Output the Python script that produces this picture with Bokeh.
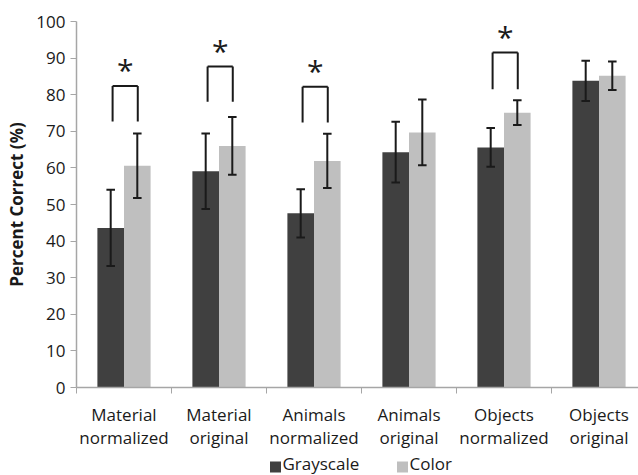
import numpy as np
from bokeh.plotting import figure
from bokeh.layouts import column
from bokeh.models import Range1d, FixedTicker
from bokeh.core.properties import value
from bokeh.embed import file_html
from bokeh.resources import INLINE

categories = ["Material\nnormalized", "Material\noriginal", "Animals\nnormalized",
              "Animals\noriginal", "Objects\nnormalized", "Objects\noriginal"]
gray_mean = [43.6, 59.1, 47.6, 64.3, 65.6, 83.8]
gray_err = [10.4, 10.3, 6.6, 8.3, 5.3, 5.5]
color_mean = [60.6, 66.0, 61.9, 69.7, 75.1, 85.2]
color_err = [8.8, 7.9, 7.4, 9.0, 3.4, 3.9]
sig_index = [0, 1, 2, 4]
bracket_top = [82.4, 87.7, 82.2, 91.5]
bracket_leg = [72.7, 78.1, 72.4, 81.5]
y_ticks = [0, 10, 20, 30, 40, 50, 60, 70, 80, 90, 100]
series = ["Grayscale", "Color"]

FONT = "Open Sans"
DARK = "#404040"
LIGHT = "#bfbfbf"
AXIS = "#a6a6a6"
INK = "#1a1a1a"

idx = np.arange(len(categories))
xg = idx + 0.36
xc = idx + 0.64
bw = 0.28

p = figure(width=638, height=452, output_backend="svg", toolbar_location=None,
           x_range=Range1d(0, 562 / 95), y_range=Range1d(0, 100),
           min_border_left=76, min_border_right=0, min_border_top=21,
           min_border_bottom=65)
p.outline_line_color = None
p.xgrid.grid_line_color = None
p.ygrid.grid_line_color = None

p.vbar(x=xg, top=gray_mean, width=bw, fill_color=DARK, line_color=None)
p.vbar(x=xc, top=color_mean, width=bw, fill_color=LIGHT, line_color=None)

# error bars
for xs, m, e in ((xg, gray_mean, gray_err), (xc, color_mean, color_err)):
    m = np.array(m); e = np.array(e)
    p.segment(x0=xs, y0=m - e, x1=xs, y1=m + e, line_color=INK, line_width=2)
    p.segment(x0=xs - 0.045, y0=m + e, x1=xs + 0.045, y1=m + e, line_color=INK, line_width=2)
    p.segment(x0=xs - 0.045, y0=m - e, x1=xs + 0.045, y1=m - e, line_color=INK, line_width=2)

# significance brackets
si = np.array(sig_index)
bl = si + 0.38
br = si + 0.645
bt = np.array(bracket_top)
bg = np.array(bracket_leg)
p.segment(x0=bl, y0=bg, x1=bl, y1=bt, line_color=INK, line_width=2)
p.segment(x0=br, y0=bg, x1=br, y1=bt, line_color=INK, line_width=2)
p.segment(x0=bl, y0=bt, x1=br, y1=bt, line_color=INK, line_width=2)
p.text(x=(bl + br) / 2, y=bt, text=["*"] * len(si), text_align="center",
       text_baseline="alphabetic", text_font=value(FONT), text_font_size="30px",
       text_color=INK, y_offset=-16)

# x axis
xa = p.xaxis[0]
xa.ticker = FixedTicker(ticks=list(idx + 0.5), minor_ticks=list(range(len(categories) + 1)))
xa.major_label_overrides = {float(i + 0.5): c for i, c in enumerate(categories)}
xa.major_tick_out = 0
xa.major_tick_in = 0
xa.minor_tick_out = 6
xa.minor_tick_in = 0
xa.minor_tick_line_color = AXIS
xa.axis_line_color = AXIS
xa.axis_line_width = 1.5
xa.major_label_text_font = FONT
xa.major_label_text_font_size = "17px"
xa.major_label_text_color = INK
xa.major_label_text_line_height = 1.0
xa.major_label_standoff = 9

# y axis
ya = p.yaxis[0]
ya.ticker = FixedTicker(ticks=y_ticks)
ya.minor_tick_line_color = None
ya.major_tick_out = 6
ya.major_tick_in = 0
ya.major_tick_line_color = AXIS
ya.axis_line_color = AXIS
ya.axis_line_width = 1.5
ya.major_label_text_font = FONT
ya.major_label_text_font_size = "17px"
ya.major_label_text_color = INK
ya.major_label_standoff = 5
ya.axis_label = "Percent Correct (%)"
ya.axis_label_text_font = FONT
ya.axis_label_text_font_size = "17px"
ya.axis_label_text_font_style = "bold"
ya.axis_label_text_color = INK
ya.axis_label_standoff = 5

# legend strip (its frame is aligned with the main frame: x in page pixels)
lf = figure(width=638, height=23, output_backend="svg", toolbar_location=None,
            x_range=Range1d(76, 638), y_range=Range1d(0, 23),
            x_axis_location=None, y_axis_location=None,
            min_border_left=0, min_border_right=0, min_border_top=0, min_border_bottom=0)
lf.outline_line_color = None
lf.xgrid.grid_line_color = None
lf.ygrid.grid_line_color = None
swatch_x = [275, 402]
lf.rect(x=swatch_x, y=[8.5, 8.5], width=11, height=11, width_units="screen",
        height_units="screen", fill_color=[DARK, LIGHT], line_color=None)
lf.text(x=[s + 7 for s in swatch_x], y=[12, 12], text=series, text_align="left",
        text_baseline="middle", text_font=value(FONT), text_font_size="17px",
        text_color=INK)

layout = column(p, lf, spacing=0)
open("out.html", "w").write(file_html(layout, INLINE))
